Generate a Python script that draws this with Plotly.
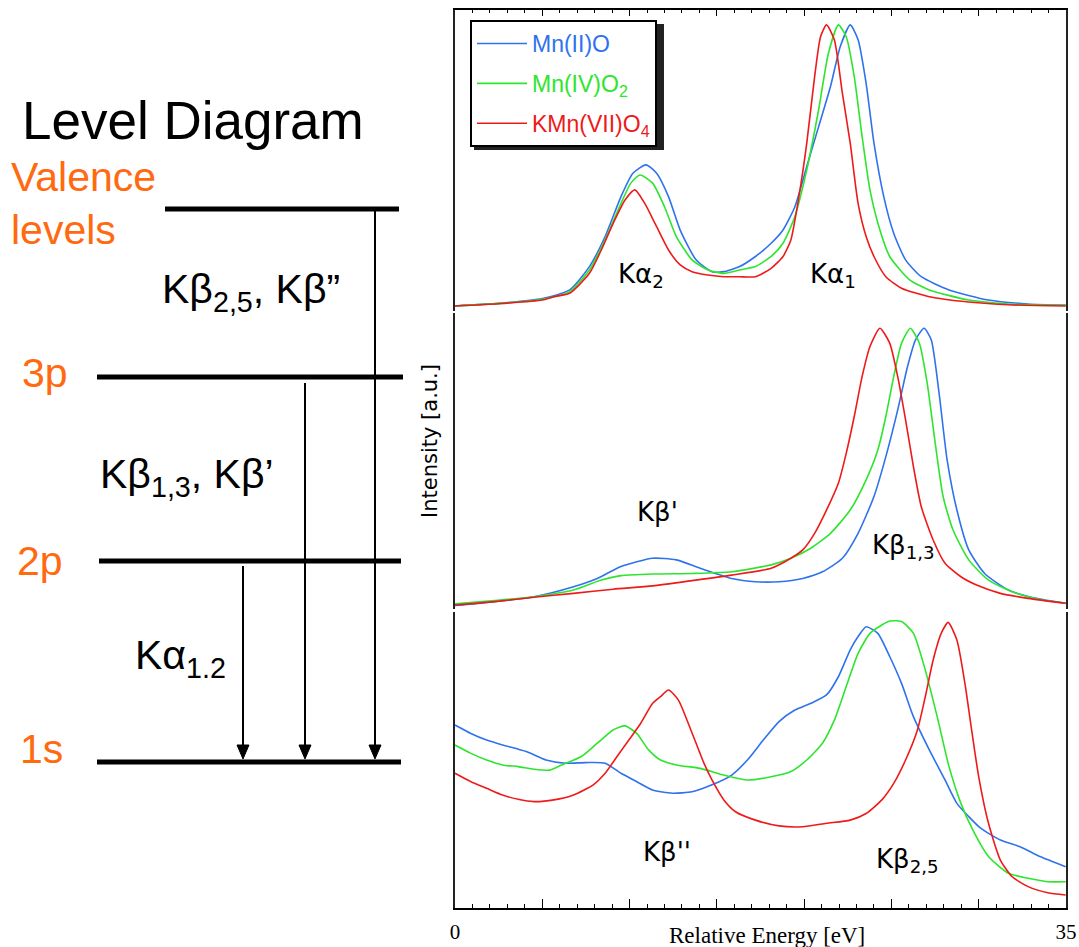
import plotly.graph_objects as go

W, H = 1079, 947

# ---------------- data ----------------
# Top panel: K-alpha region
ka_red_E = [0, 2.5, 5.0, 5.66, 6.57, 7.70, 8.38, 9.06, 9.74, 10.30, 10.87, 11.55, 12.23, 12.90, 13.58, 14.49, 15.40, 16.30,
            17.21, 18.11, 18.79, 19.24, 19.70, 20.15, 20.60, 20.94, 21.28, 21.73, 22.19, 22.64, 23.09, 23.55, 24.0,
            24.68, 25.58, 27.17, 29.43, 31.70, 34.98]
ka_red_I = [0, 0.8, 2.1, 3.3, 4.5, 11.6, 19.9, 29.4, 37.7, 41.3, 36.5, 28.2, 19.9, 14.6, 12.2, 11.0, 10.4, 10.4,
            10.4, 13.4, 17.6, 23.5, 38.9, 57.9, 81.6, 95.8, 100, 94.7, 75.7, 57.9, 36.5, 24.7, 17.6,
            10.4, 6.3, 3.3, 1.4, 0.4, 0]
ka_green_E = [0, 2.5, 5.0, 6.57, 7.70, 8.60, 9.51, 10.07, 10.60, 11.32, 12.0, 12.68, 13.58, 14.49, 15.40, 16.30, 17.21,
              18.11, 18.79, 19.47, 20.15, 20.83, 21.39, 21.96, 22.41, 22.87, 23.32, 23.77, 24.34, 24.90, 26.04, 27.17,
              29.43, 31.70, 34.98]
ka_green_I = [0, 0.9, 2.4, 5.1, 12.8, 23.5, 36.5, 43.7, 46.6, 43.7, 35.3, 24.7, 16.4, 12.8, 11.6, 12.8, 14.0,
              17.6, 22.3, 31.8, 48.4, 69.8, 89.9, 100, 95.8, 81.6, 60.3, 41.3, 27.0, 17.6, 9.3, 5.7,
              2.1, 0.7, 0.2]
ka_blue_E = [0, 2.5, 5.0, 6.57, 7.70, 8.60, 9.51, 10.19, 10.94, 11.55, 12.23, 12.90, 13.81, 14.72, 15.40, 16.30, 17.21,
             18.11, 18.79, 19.47, 20.15, 20.83, 21.51, 22.07, 22.64, 23.09, 23.55, 24.0, 24.56, 25.13, 25.81, 26.71,
             28.30, 30.56, 32.83, 34.98]
ka_blue_I = [0, 0.9, 2.6, 5.7, 14.0, 24.7, 38.9, 47.2, 50.2, 47.2, 38.9, 27.0, 16.4, 12.2, 12.2, 14.0, 17.6,
             22.3, 27.0, 35.3, 49.6, 63.8, 78.1, 92.3, 100, 94.7, 79.2, 57.9, 38.9, 25.9, 16.4, 10.4,
             5.7, 2.1, 0.7, 0.3]

# Middle panel: K-beta 1,3 region
kb13_red_E = [0, 2.26, 4.53, 6.79, 9.06, 11.32, 13.58, 15.85, 18.11, 19.24, 19.92, 20.60, 21.28, 21.96, 22.41, 22.87,
              23.32, 23.77, 24.34, 24.90, 25.36, 25.81, 26.26, 26.71, 27.39, 28.07, 28.98, 29.88, 31.24, 32.83, 34.98]
kb13_red_I = [0, 1.2, 2.8, 4.2, 5.7, 6.9, 8.8, 10.8, 13.3, 16.9, 19.9, 25.9, 34.3, 44.0, 54.8, 68.1,
              82.5, 93.4, 100, 94.6, 82.5, 66.9, 50.0, 35.5, 23.5, 15.1, 10.2, 7.2, 4.2, 2.4, 0.6]
kb13_green_E = [0, 2.26, 4.53, 6.79, 8.38, 9.51, 11.32, 13.58, 15.85, 18.11, 19.24, 20.38, 21.51, 22.64, 23.55, 24.22,
                24.68, 25.13, 25.58, 26.08, 26.60, 27.05, 27.51, 27.96, 28.53, 29.43, 30.56, 32.15, 33.51, 34.98]
kb13_green_I = [0.4, 1.6, 3.0, 5.4, 9.0, 10.6, 11.2, 11.4, 12.0, 14.5, 16.9, 20.5, 25.9, 34.3, 45.2, 56.0,
                68.1, 82.5, 94.6, 100, 94.6, 80.1, 58.4, 39.2, 27.1, 16.3, 9.0, 4.2, 2.0, 0.6]
kb13_blue_E = [0, 2.26, 4.53, 6.79, 8.15, 9.51, 11.32, 12.68, 14.04, 15.85, 17.21, 18.56, 19.92, 21.05, 22.19, 23.09,
               24.0, 24.68, 25.36, 25.92, 26.38, 26.87, 27.28, 27.73, 28.19, 28.75, 29.43, 30.34, 31.70, 33.28, 34.98]
kb13_blue_I = [-0.2, 1.2, 3.0, 6.6, 9.6, 13.9, 16.9, 16.3, 13.3, 9.6, 8.4, 8.4, 9.6, 12.0, 16.9, 25.9,
               39.2, 53.6, 70.5, 86.1, 95.8, 100, 95.8, 76.5, 52.4, 34.3, 19.9, 11.4, 5.4, 2.4, 0.6]

# Bottom panel: valence-to-core K-beta 2,5 / K-beta'' region
kb25_red_E = [0, 0.91, 1.81, 2.72, 3.62, 4.53, 5.66, 6.79, 7.92, 8.60, 9.28, 9.96, 10.64, 11.32, 11.77, 12.23, 12.79,
              13.36, 13.81, 14.26, 14.72, 15.40, 16.07, 17.21, 18.56, 19.92, 21.28, 22.64, 23.55, 24.45, 25.13, 25.81,
              26.49, 26.94, 27.39, 27.85, 28.25, 28.75, 29.21, 29.54, 30.0, 30.56, 31.24, 31.92, 32.83, 33.96, 34.98]
kb25_red_I = [47.3, 44.4, 42.1, 39.8, 38.3, 37.5, 38.1, 39.8, 43.3, 47.3, 53.1, 58.8, 64.6, 71.5, 73.8, 76.1, 72.7,
              64.6, 57.7, 50.8, 45.0, 38.1, 34.0, 31.1, 29.1, 28.8, 30.0, 31.1, 33.4, 38.1, 43.8, 51.9,
              62.3, 73.8, 86.5, 95.7, 99.5, 93.4, 78.4, 64.6, 46.1, 30.0, 17.3, 11.5, 8.1, 6.0, 5.2]
kb25_green_E = [0, 0.91, 1.81, 2.72, 3.62, 4.53, 5.43, 6.11, 7.24, 8.15, 9.06, 9.74, 10.41, 11.09, 11.77, 12.68, 14.04,
                15.40, 16.75, 18.11, 19.24, 20.15, 21.05, 21.73, 22.41, 23.09, 23.77, 24.45, 24.90, 25.58, 26.26,
                26.94, 27.62, 28.30, 28.98, 29.66, 30.56, 31.70, 32.83, 33.96, 34.98]
kb25_green_I = [57.1, 54.2, 51.9, 50.2, 49.6, 48.7, 48.4, 50.2, 53.1, 57.7, 62.3, 63.7, 61.1, 55.4, 51.9, 50.2, 49.0,
                46.7, 45.0, 46.1, 47.9, 51.9, 57.7, 65.7, 77.3, 88.8, 95.7, 98.6, 100, 99.8, 95.7,
                83.0, 66.9, 49.6, 36.9, 27.7, 18.5, 12.7, 11.0, 9.8, 9.8]
kb25_blue_E = [0, 0.91, 1.81, 2.72, 4.08, 5.21, 6.34, 7.47, 8.60, 9.51, 10.41, 11.32, 12.45, 13.58, 14.72, 15.85, 16.75,
               17.66, 18.56, 19.47, 20.38, 21.28, 21.96, 22.64, 23.09, 23.55, 24.22, 24.90, 25.58, 26.26, 27.17, 28.07,
               28.75, 29.43, 30.11, 31.24, 32.37, 33.51, 34.98]
kb25_blue_I = [64.0, 61.1, 58.8, 57.1, 54.8, 51.9, 50.8, 51.0, 50.8, 47.3, 44.4, 41.5, 40.4, 40.9, 43.3, 46.7, 51.9,
               58.8, 65.2, 69.2, 71.5, 74.4, 80.7, 90.0, 94.6, 98.0, 95.7, 87.7, 78.4, 66.9, 55.4, 45.0,
               36.9, 32.3, 28.3, 24.2, 21.9, 18.5, 15.0]

series_names = ['Mn(II)O', 'Mn(IV)O<sub>2</sub>', 'KMn(VII)O<sub>4</sub>']
x_tick_vals = [0, 5, 10, 15, 20, 25, 30, 35]
x_tick_text = ['0', '', '', '', '', '', '', '35']

# ---------------- styling ----------------
BLUE, GREEN, RED = '#2f72ee', '#2ee52e', '#ee1a1a'
ORANGE = '#ff6a10'
colors = [BLUE, GREEN, RED]


def px(x, y):
    """pixel position -> paper coords (layout helper for diagram/labels)"""
    return x / W, (H - y) / H


fig = go.Figure()

panels = [
    ('x', 'y', [(ka_blue_E, ka_blue_I), (ka_green_E, ka_green_I), (ka_red_E, ka_red_I)], True),
    ('x2', 'y2', [(kb13_blue_E, kb13_blue_I), (kb13_green_E, kb13_green_I), (kb13_red_E, kb13_red_I)], False),
    ('x3', 'y3', [(kb25_blue_E, kb25_blue_I), (kb25_green_E, kb25_green_I), (kb25_red_E, kb25_red_I)], False),
]
for xa, ya, data, show in panels:
    for i, (e, inten) in enumerate(data):
        fig.add_trace(go.Scatter(
            x=e, y=inten, mode='lines', xaxis=xa, yaxis=ya,
            line=dict(color=colors[i], width=1.6, shape='spline', smoothing=0.6),
            name='<span style="color:%s">%s</span>' % (colors[i], series_names[i]),
            legendgroup='g%d' % i, showlegend=show,
        ))

xdom = [455 / W, 1066 / W]
ydom_top = [(H - 311) / H, (H - 10) / H]
ydom_mid = [(H - 609) / H, (H - 313) / H]
ydom_bot = [(H - 908) / H, (H - 612) / H]

yax_common = dict(showline=True, mirror=True, linecolor='#222', linewidth=1.5, ticks='', automargin=False,
                  showticklabels=False, showgrid=False, zeroline=False, fixedrange=True)

fig.update_layout(
    width=W, height=H, autosize=False, margin=dict(l=0, r=0, t=0, b=0, pad=0, autoexpand=False),
    paper_bgcolor='white', plot_bgcolor='white',
    xaxis=dict(domain=xdom, anchor='y', range=[0, 35], side='top', showline=True, linecolor='black',
               linewidth=1.5, ticks='inside', ticklen=6, tickcolor='black', tickmode='array', tickvals=x_tick_vals,
               minor=dict(ticks='inside', ticklen=3, tickcolor='black', tickmode='linear', tick0=0, dtick=1),
               showticklabels=False, showgrid=False, zeroline=False, automargin=False),
    xaxis2=dict(domain=xdom, anchor='y2', range=[0, 35], visible=False, matches='x', automargin=False),
    xaxis3=dict(domain=xdom, anchor='y3', range=[0, 35], showline=True, linecolor='black', linewidth=1.5,
                ticks='inside', ticklen=9, tickcolor='black', tickmode='array', tickvals=x_tick_vals,
                ticktext=x_tick_text, automargin=False,
                minor=dict(ticks='inside', ticklen=4, tickcolor='black', tickmode='linear', tick0=0, dtick=1),
                tickfont=dict(family='Liberation Serif', size=21, color='black'), ticklabelstandoff=4,
                showgrid=False, zeroline=False),
    yaxis=dict(domain=ydom_top, anchor='x', range=[-1.8, 105.3], **yax_common),
    yaxis2=dict(domain=ydom_mid, anchor='x2', range=[-1.45, 105.5], **yax_common),
    yaxis3=dict(domain=ydom_bot, anchor='x3', range=[0.7, 103.1], **yax_common),
    showlegend=True,
    legend=dict(x=470 / W, y=(H - 20) / H, xanchor='left', yanchor='top', bgcolor='white',
                bordercolor='black', borderwidth=2, tracegroupgap=7, itemwidth=50,
                font=dict(family='Liberation Sans', size=23, color='black')),
)

shapes = []
# legend drop shadow
x0, y0 = px(474, 24)
x1, y1 = px(664, 150)
shapes.append(dict(type='rect', xref='paper', yref='paper', x0=x0, y0=y1, x1=x1, y1=y0,
                   fillcolor='#222', line=dict(width=0), layer='above'))

# level diagram lines
levels = [(165, 399, 209), (97, 403, 377), (99, 401, 561), (97, 401, 762)]
for xa_, xb_, yy in levels:
    a = px(xa_, yy)
    b = px(xb_, yy)
    shapes.append(dict(type='line', xref='paper', yref='paper', x0=a[0], y0=a[1], x1=b[0], y1=b[1],
                       line=dict(color='black', width=5)))
# transition arrows
arrows = [(375, 211), (305, 383), (243, 566)]
for ax_, ystart in arrows:
    a = px(ax_, ystart)
    b = px(ax_, 748)
    shapes.append(dict(type='line', xref='paper', yref='paper', x0=a[0], y0=a[1], x1=b[0], y1=b[1],
                       line=dict(color='black', width=2)))
    p1 = px(ax_ - 6, 745)
    p2 = px(ax_ + 6, 745)
    p3 = px(ax_, 759)
    shapes.append(dict(type='path', xref='paper', yref='paper',
                       path='M %f,%f L %f,%f L %f,%f Z' % (p1[0], p1[1], p2[0], p2[1], p3[0], p3[1]),
                       fillcolor='black', line=dict(color='black', width=1)))
fig.update_layout(shapes=shapes)

ann = []


def add_text(text, x, y, size, color='black', family='Liberation Sans', xanchor='left', yanchor='middle',
             align='left', angle=0):
    p = px(x, y)
    ann.append(dict(text=text, x=p[0], y=p[1], xref='paper', yref='paper', showarrow=False,
                    xanchor=xanchor, yanchor=yanchor, align=align, textangle=angle,
                    font=dict(family=family, size=size, color=color)))


add_text('Level Diagram', 193, 120, 53, xanchor='center')
add_text('Valence<br>levels', 9, 204, 41, color=ORANGE)
add_text('3p', 20, 373, 41, color=ORANGE)
add_text('2p', 15, 561, 41, color=ORANGE)
add_text('1s', 18, 749, 41, color=ORANGE)
add_text('Kβ<sub>2,5</sub>, Kβ\u201d', 160, 292, 41)
add_text('Kβ<sub>1,3</sub>, Kβ\u2019', 98, 477, 41)
add_text('Kα<sub>1.2</sub>', 133, 658, 41)
add_text('Intensity [a.u.]', 430, 441, 21, family='DejaVu Sans', xanchor='center', angle=-90)
add_text('Relative Energy [eV]', 767, 935, 23, family='Liberation Serif', xanchor='center')

# peak labels in data coordinates
peak_labels = [
    ('Kα<sub>2</sub>', 9.2, 11.0, 'x', 'y'),
    ('Kα<sub>1</sub>', 20.2, 11.0, 'x', 'y'),
    ("Kβ'", 10.3, 33.6, 'x2', 'y2'),
    ('Kβ<sub>1,3</sub>', 23.8, 21.3, 'x2', 'y2'),
    ("Kβ''", 10.65, 20.0, 'x3', 'y3'),
    ('Kβ<sub>2,5</sub>', 24.0, 17.0, 'x3', 'y3'),
]
for t, xv, yv, xr, yr in peak_labels:
    ann.append(dict(text=t, x=xv, y=yv, xref=xr, yref=yr, showarrow=False, xanchor='left', yanchor='middle',
                    font=dict(family='DejaVu Sans', size=26, color='black')))

fig.update_layout(annotations=ann)
fig.write_html(
    'out.html',
    config={'displayModeBar': False, 'responsive': False},
    post_script="document.documentElement.style.overflow='hidden';document.body.style.margin='0px';"
                "document.body.style.overflow='hidden';",
)
